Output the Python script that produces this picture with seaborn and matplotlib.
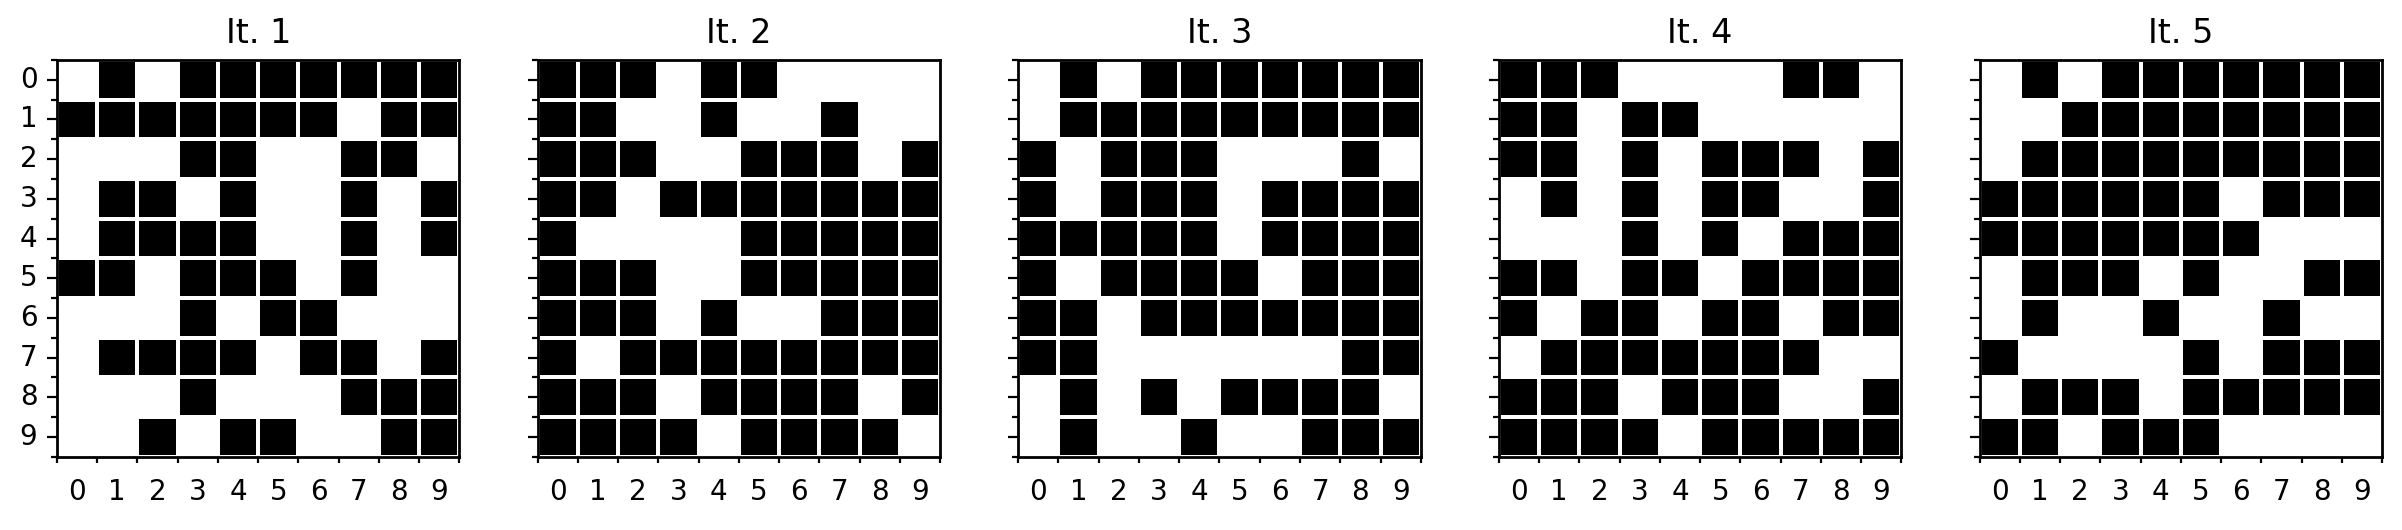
import numpy as np
import matplotlib.pyplot as plt
import seaborn as sns

# 10x10 binary grids, one per iteration (1 = black, 0 = white)
it1 = [
    [0, 1, 0, 1, 1, 1, 1, 1, 1, 1],
    [1, 1, 1, 1, 1, 1, 1, 0, 1, 1],
    [0, 0, 0, 1, 1, 0, 0, 1, 1, 0],
    [0, 1, 1, 0, 1, 0, 0, 1, 0, 1],
    [0, 1, 1, 1, 1, 0, 0, 1, 0, 1],
    [1, 1, 0, 1, 1, 1, 0, 1, 0, 0],
    [0, 0, 0, 1, 0, 1, 1, 0, 0, 0],
    [0, 1, 1, 1, 1, 0, 1, 1, 0, 1],
    [0, 0, 0, 1, 0, 0, 0, 1, 1, 1],
    [0, 0, 1, 0, 1, 1, 0, 0, 1, 1],
]
it2 = [
    [1, 1, 1, 0, 1, 1, 0, 0, 0, 0],
    [1, 1, 0, 0, 1, 0, 0, 1, 0, 0],
    [1, 1, 1, 0, 0, 1, 1, 1, 0, 1],
    [1, 1, 0, 1, 1, 1, 1, 1, 1, 1],
    [1, 0, 0, 0, 0, 1, 1, 1, 1, 1],
    [1, 1, 1, 0, 0, 1, 1, 1, 1, 1],
    [1, 1, 1, 0, 1, 0, 0, 1, 1, 1],
    [1, 0, 1, 1, 1, 1, 1, 1, 1, 1],
    [1, 1, 1, 0, 1, 1, 1, 1, 0, 1],
    [1, 1, 1, 1, 0, 1, 1, 1, 1, 0],
]
it3 = [
    [0, 1, 0, 1, 1, 1, 1, 1, 1, 1],
    [0, 1, 1, 1, 1, 1, 1, 1, 1, 1],
    [1, 0, 1, 1, 1, 0, 0, 0, 1, 0],
    [1, 0, 1, 1, 1, 0, 1, 1, 1, 1],
    [1, 1, 1, 1, 1, 0, 1, 1, 1, 1],
    [1, 0, 1, 1, 1, 1, 0, 1, 1, 1],
    [1, 1, 0, 1, 1, 1, 1, 1, 1, 1],
    [1, 1, 0, 0, 0, 0, 0, 0, 1, 1],
    [0, 1, 0, 1, 0, 1, 1, 1, 1, 0],
    [0, 1, 0, 0, 1, 0, 0, 1, 1, 1],
]
it4 = [
    [1, 1, 1, 0, 0, 0, 0, 1, 1, 0],
    [1, 1, 0, 1, 1, 0, 0, 0, 0, 0],
    [1, 1, 0, 1, 0, 1, 1, 1, 0, 1],
    [0, 1, 0, 1, 0, 1, 1, 0, 0, 1],
    [0, 0, 0, 1, 0, 1, 0, 1, 1, 1],
    [1, 1, 0, 1, 1, 0, 1, 1, 1, 1],
    [1, 0, 1, 1, 0, 1, 1, 0, 1, 1],
    [0, 1, 1, 1, 1, 1, 1, 1, 0, 0],
    [1, 1, 1, 0, 1, 1, 1, 0, 0, 1],
    [1, 1, 1, 1, 0, 1, 1, 1, 1, 1],
]
it5 = [
    [0, 1, 0, 1, 1, 1, 1, 1, 1, 1],
    [0, 0, 1, 1, 1, 1, 1, 1, 1, 1],
    [0, 1, 1, 1, 1, 1, 1, 1, 1, 1],
    [1, 1, 1, 1, 1, 1, 0, 1, 1, 1],
    [1, 1, 1, 1, 1, 1, 1, 0, 0, 0],
    [0, 1, 1, 1, 0, 1, 0, 0, 1, 1],
    [0, 1, 0, 0, 1, 0, 0, 1, 0, 0],
    [1, 0, 0, 0, 0, 1, 0, 1, 1, 1],
    [0, 1, 1, 1, 0, 1, 1, 1, 1, 1],
    [1, 1, 0, 1, 1, 1, 0, 0, 0, 0],
]
grids = [it1, it2, it3, it4, it5]
titles = ['It. 1', 'It. 2', 'It. 3', 'It. 4', 'It. 5']
tick_labels = [str(i) for i in range(10)]

fig, axes = plt.subplots(1, 5, figsize=(12.01, 2.65), dpi=200, sharey=True)
fig.subplots_adjust(left=0.0237, right=0.9917, bottom=0.138, top=0.887, wspace=0.194)

for i, ax in enumerate(axes):
    sns.heatmap(np.array(grids[i]), ax=ax, cmap=['white', 'black'], vmin=0, vmax=1,
                cbar=False, linewidths=0.8, linecolor='white',
                xticklabels=tick_labels, yticklabels=tick_labels)
    ax.set_title(titles[i], fontsize=12)
    for s in ax.spines.values():
        s.set_visible(True)
        s.set_color('black')
        s.set_linewidth(1.0)
    ax.set_xticks(np.arange(11), minor=True)
    ax.set_yticks(np.arange(11), minor=True)
    ax.tick_params(axis='x', which='major', length=0, pad=7.5, labelsize=10, labelrotation=0)
    ax.tick_params(axis='y', which='major', length=3.5, labelsize=10, labelrotation=0)
    ax.tick_params(which='minor', length=2, width=0.8)
    if i > 0:
        ax.tick_params(axis='y', labelleft=False)

fig.savefig('out.png', dpi=200)
